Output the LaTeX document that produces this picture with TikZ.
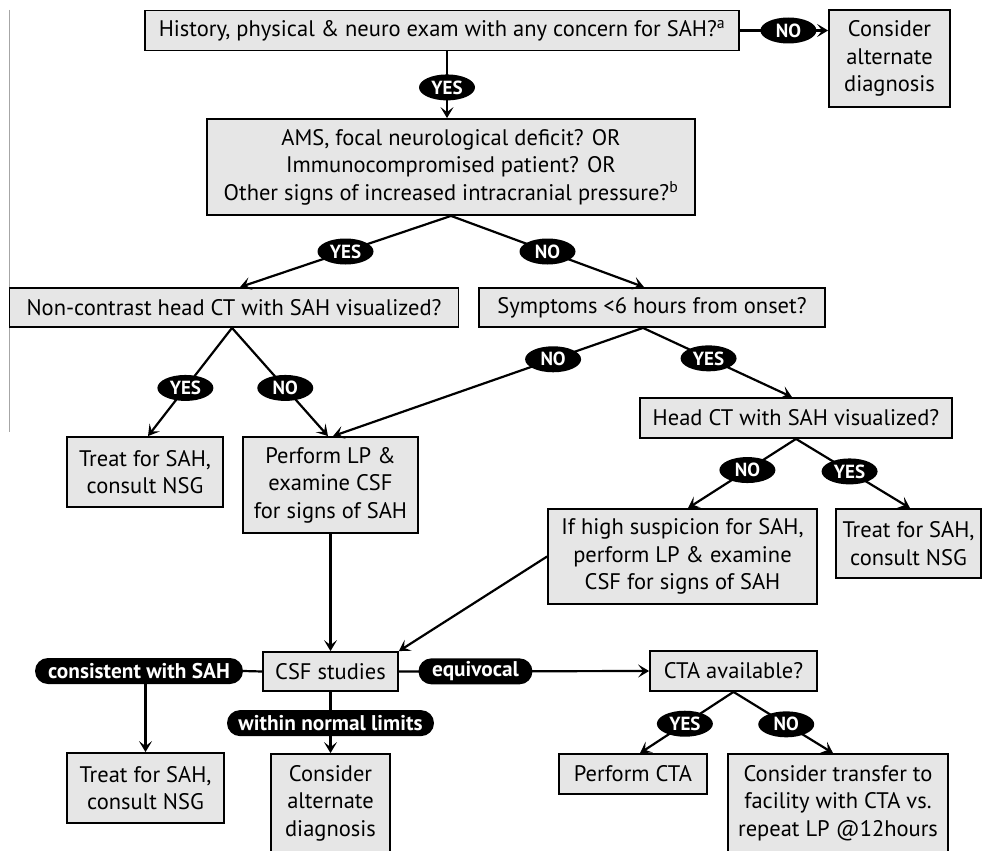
\documentclass[tikz,border=0pt]{standalone}
\usepackage{fontspec}
\setmainfont{PT Sans}
\usetikzlibrary{arrows.meta,shapes.geometric,calc}
\definecolor{boxgray}{RGB}{230,230,230}
\begin{document}
\begin{tikzpicture}[x=1pt,y=-1pt,
  box/.style={draw=black, fill=boxgray, line width=1.8pt, align=center, inner sep=2pt,
    font=\fontsize{22.5}{27.5}\selectfont},
  yn/.style={ellipse, fill=black, text=white, inner sep=0pt, minimum width=56pt,
    minimum height=26pt, font=\bfseries\fontsize{19}{19}\selectfont},
  pill/.style={rectangle, rounded corners=13pt, fill=black, text=white, inner sep=0pt,
    minimum height=26pt, font=\bfseries\fontsize{21.3}{21.3}\selectfont},
  conn/.style={line width=2.2pt},
  arr/.style={conn, -{Stealth[length=11pt,width=13pt,inset=5pt]}}
]
\useasboundingbox (0,0) rectangle (983,851);
\fill[white] (0,0) rectangle (983,851);
\draw[gray!70, line width=1pt] (9.5,10) -- (9.5,432);

% boxes
\node[box, minimum width=594pt, minimum height=40pt] (b1) at (442,30.5)
  {History, physical \& neuro exam with any concern for SAH?\textsuperscript{a}};
\node[box, minimum width=121pt, minimum height=97pt] (alt1) at (889.5,58.5)
  {Consider\\alternate\\diagnosis};
\node[box, minimum width=488pt, minimum height=96pt] (b2) at (451,167)
  {AMS, focal neurological deficit? OR\\Immunocompromised patient? OR\\Other signs of increased intracranial pressure?\textsuperscript{b}};
\node[box, minimum width=449pt, minimum height=39pt] (b3) at (234,307.5)
  {Non-contrast head CT with SAH visualized?};
\node[box, minimum width=346pt, minimum height=39pt] (b4) at (652,307.5)
  {Symptoms <6 hours from onset?};
\node[box, minimum width=156pt, minimum height=70pt] (tr1) at (145,472)
  {Treat for SAH,\\consult NSG};
\node[box, minimum width=175pt, minimum height=96pt] (lp1) at (330.5,485)
  {Perform LP \&\\examine CSF\\for signs of SAH};
\node[box, minimum width=312pt, minimum height=40pt] (hct) at (796,418)
  {Head CT with SAH visualized?};
\node[box, minimum width=269pt, minimum height=95pt] (ifh) at (682.5,556.5)
  {If high suspicion for SAH,\\perform LP \& examine\\CSF for signs of SAH};
\node[box, minimum width=145pt, minimum height=69pt] (tr2) at (908.5,543.5)
  {Treat for SAH,\\consult NSG};
\node[box, minimum width=135pt, minimum height=39pt] (csf) at (330.5,671.5)
  {CSF studies};
\node[box, minimum width=167pt, minimum height=40pt] (cta) at (733.5,671)
  {CTA available?};
\node[box, minimum width=157pt, minimum height=70pt] (tr3) at (145.5,788)
  {Treat for SAH,\\consult NSG};
\node[box, minimum width=119pt, minimum height=98pt] (alt2) at (330.5,803)
  {Consider\\alternate\\diagnosis};
\node[box, minimum width=148pt, minimum height=40pt] (pcta) at (633,774)
  {Perform CTA};
\node[box, minimum width=220pt, minimum height=98pt] (trans) at (838,803)
  {Consider transfer to\\facility with CTA vs.\\repeat LP @12hours};

% connectors
\draw[arr] (b1.east) -- node[yn,pos=0.55]{NO} (b1.east -| alt1.west);
\draw[arr] ([xshift=5pt]b1.south) -- node[yn,pos=0.54]{YES} ([xshift=5pt]b1.south |- b2.north);
\draw[arr] (b2.south) -- node[yn]{YES} ([xshift=6pt]b3.north);
\draw[arr] (b2.south) -- node[yn]{NO} ([xshift=-8pt]b4.north);
\draw[arr] ([xshift=-2pt]b3.south) -- node[yn,pos=0.555]{YES} ([xshift=3pt]tr1.north);
\draw[arr] ([xshift=-2pt]b3.south) -- node[yn,pos=0.555]{NO} ([xshift=-2.5pt]lp1.north);
\draw[arr] ([xshift=-9pt]b4.south) -- node[yn,pos=0.29]{NO} ([xshift=2.5pt]lp1.north);
\draw[arr] ([xshift=-9pt]b4.south) -- node[yn,pos=0.44]{YES} ([xshift=-4pt]hct.north);
\draw[arr] (hct.south) -- node[yn,pos=0.45]{NO} ([xshift=5.5pt]ifh.north);
\draw[arr] (hct.south) -- node[yn,pos=0.47]{YES} ([xshift=1.5pt]tr2.north);
\draw[arr] (ifh.west) -- (csf.north east);
\draw[arr] (lp1.south) -- (csf.north);

\node[pill, minimum width=208pt] (cons) at (139,671) {consistent with SAH};
\draw[conn] (csf.west) -- (cons.east);
\draw[arr] (cons.south -| tr3.north) -- (tr3.north);
\draw[arr] (csf.south) -- node[pill,minimum width=207pt,pos=0.51]{within normal limits} (alt2.north);
\draw[arr] (csf.east) -- node[pill,minimum width=114pt,pos=0.306]{equivocal} (cta.west);
\draw[arr] (cta.south) -- node[yn,pos=0.52]{YES} ([xshift=7pt]pcta.north);
\draw[arr] (cta.south) -- node[yn,pos=0.53]{NO} ([xshift=-5pt]trans.north);
\end{tikzpicture}
\end{document}
